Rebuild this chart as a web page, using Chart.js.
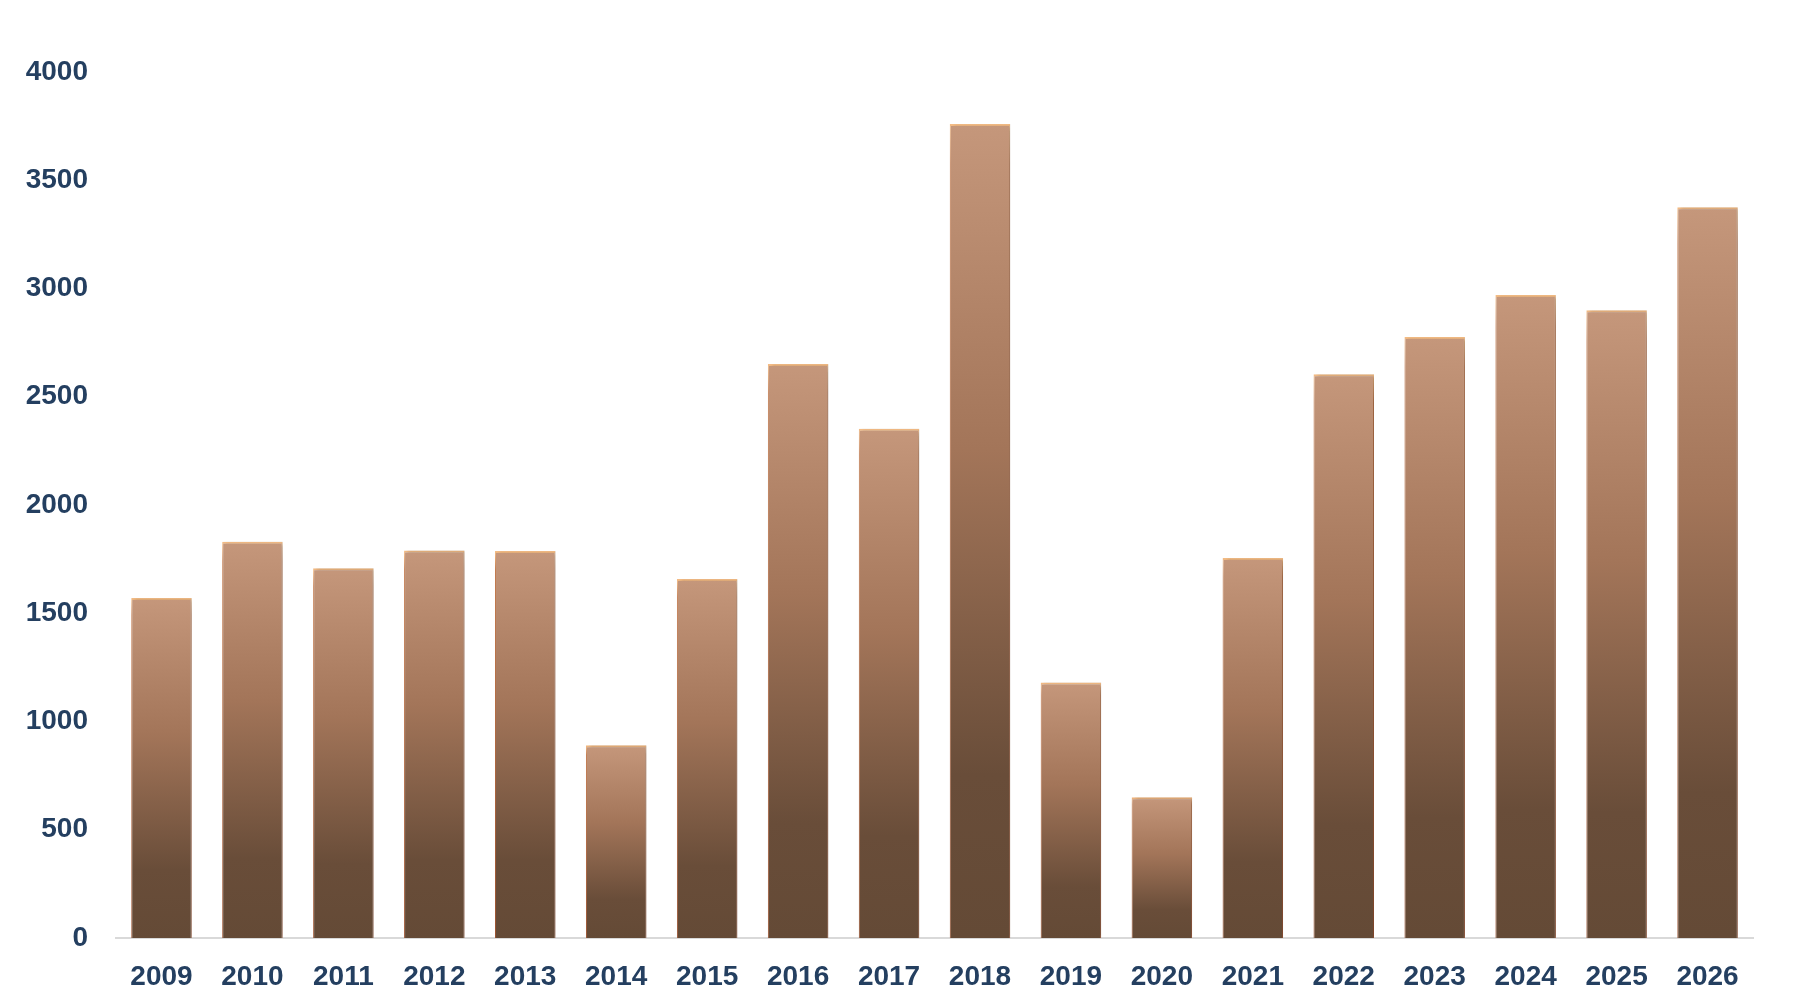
<!DOCTYPE html>
<html>
<head>
<meta charset="utf-8">
<script src="https://cdn.jsdelivr.net/npm/chart.js@4.4.1/dist/chart.umd.min.js"></script>
<style>
  html, body { margin: 0; padding: 0; background: #ffffff; }
  #wrap { width: 1812px; height: 1008px; position: relative; }
</style>
</head>
<body>
<div id="wrap"><canvas id="c" width="1812" height="1008"></canvas></div>
<script>
const categories = ['2009','2010','2011','2012','2013','2014','2015','2016','2017','2018','2019','2020','2021','2022','2023','2024','2025','2026'];
const values = [1570, 1830, 1708, 1790, 1788, 890, 1658, 2651, 2352, 3760, 1180, 650, 1755, 2604, 2776, 2970, 2899, 3375];
const yTicks = [0, 500, 1000, 1500, 2000, 2500, 3000, 3500, 4000];

const labelColor = '#243F60';
const fontFamily = '"Liberation Sans", Arial, sans-serif';

function barGradient(context, kind) {
  const chart = context.chart;
  const area = chart.chartArea;
  if (!area || !chart.scales || !chart.scales.y) {
    return kind === 'fill' ? '#9a7153' : '#b8683d';
  }
  const v = values[context.dataIndex];
  const yTop = chart.scales.y.getPixelForValue(v);
  const yBase = chart.scales.y.getPixelForValue(0);
  const g = chart.ctx.createLinearGradient(0, yTop, 0, yBase);
  if (kind === 'fill') {
    g.addColorStop(0, '#c5977b');
    g.addColorStop(0.4, '#a37559');
    g.addColorStop(0.8, '#694d39');
    g.addColorStop(1, '#644a36');
  } else {
    g.addColorStop(0, '#f4bd86');
    g.addColorStop(0.05, '#c27a4e');
    g.addColorStop(1, '#9a5230');
  }
  return g;
}

const shadowPlugin = {
  id: 'barShadow',
  beforeDatasetsDraw(chart) {
    const ctx = chart.ctx;
    ctx.save();
    ctx.shadowColor = 'rgba(0,0,0,0.22)';
    ctx.shadowBlur = 3;
    ctx.shadowOffsetX = 3;
    ctx.shadowOffsetY = 0;
  },
  afterDatasetsDraw(chart) {
    chart.ctx.restore();
  }
};

new Chart(document.getElementById('c'), {
  type: 'bar',
  data: {
    labels: categories,
    datasets: [{
      data: values,
      backgroundColor: (ctx) => barGradient(ctx, 'fill'),
      borderColor: (ctx) => barGradient(ctx, 'border'),
      borderWidth: { top: 2, left: 1, right: 1, bottom: 0 },
      borderSkipped: 'bottom',
      categoryPercentage: 1.0,
      barPercentage: 0.665
    }]
  },
  plugins: [shadowPlugin],
  options: {
    responsive: false,
    animation: false,
    devicePixelRatio: 1,
    layout: { padding: { top: 72, right: 59, left: 0, bottom: 0 } },
    plugins: {
      legend: { display: false },
      tooltip: { enabled: false }
    },
    scales: {
      x: {
        grid: { display: false, drawTicks: false },
        border: { display: true, color: '#d9d9d9', width: 2 },
        ticks: {
          color: labelColor,
          font: { family: fontFamily, size: 28, weight: 'bold' },
          padding: 22,
          maxRotation: 0,
          autoSkip: false
        },
        afterFit(scale) { scale.height = 70; }
      },
      y: {
        min: 0,
        max: 4000,
        afterBuildTicks(scale) { scale.ticks = yTicks.map(v => ({ value: v })); },
        grid: { display: false, drawTicks: false },
        border: { display: false },
        ticks: {
          color: labelColor,
          font: { family: fontFamily, size: 28, weight: 'bold' },
          padding: 28,
          callback: (v) => String(v)
        },
        afterFit(scale) { scale.width = 116; }
      }
    }
  }
});
</script>
</body>
</html>
